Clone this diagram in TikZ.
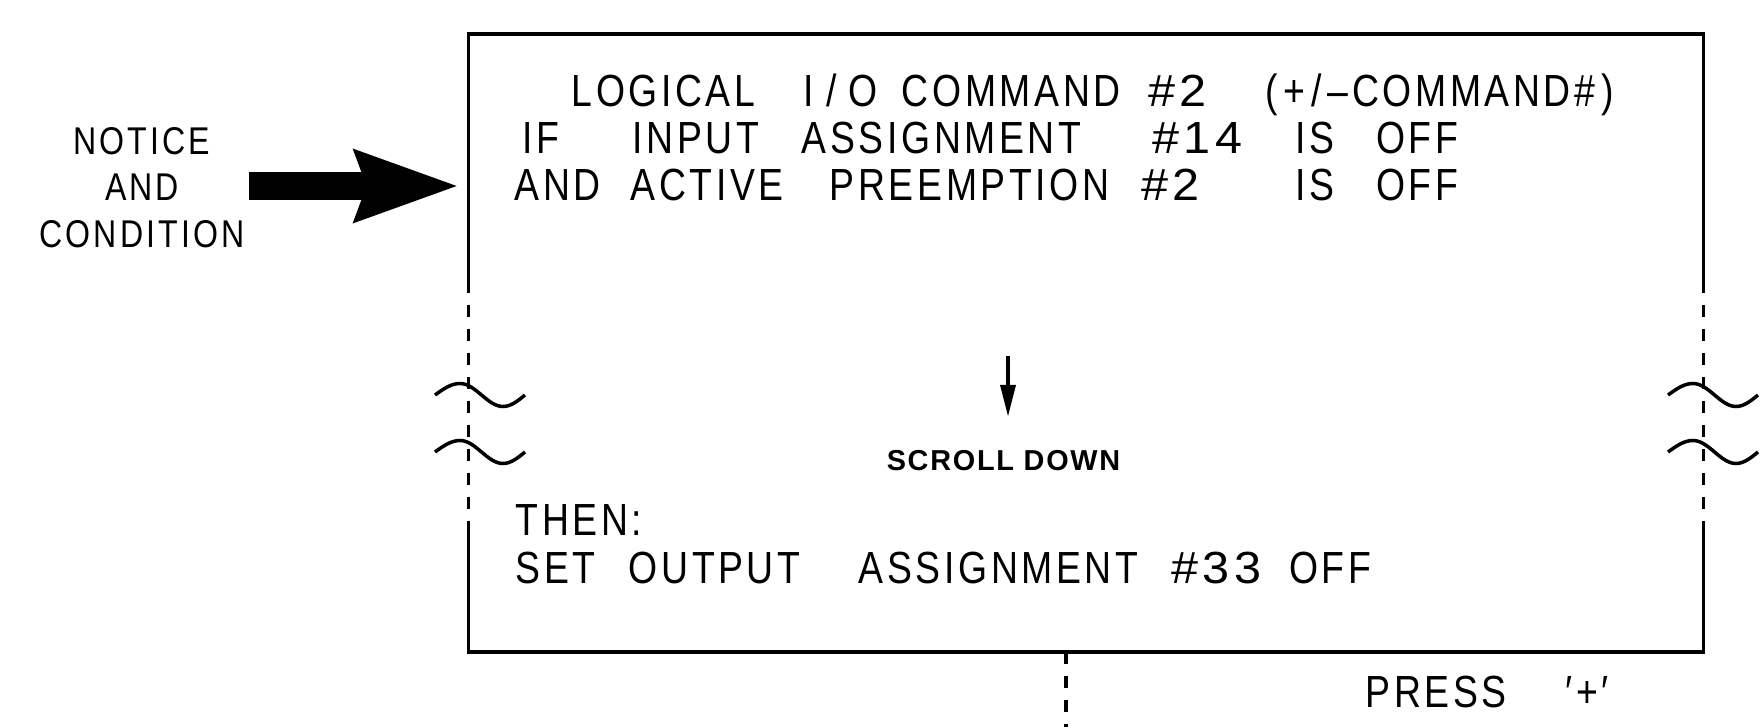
\documentclass[tikz,border=0pt]{standalone}
\usepackage{fontspec}
\usepackage{graphicx}
\usetikzlibrary{arrows.meta}
\newfontfamily\cadfont{Liberation Sans}[FakeStretch=0.83,LetterSpace=8]
\newfontfamily\cadboldfont{Liberation Sans Bold}[FakeStretch=1.0,LetterSpace=6]
\newcommand{\wordslot}[2]{\makebox[#1][l]{#2}}
\newcommand{\widenum}[1]{\scalebox{1.3}[1]{#1}}

\begin{document}
\begin{tikzpicture}[x=0.01cm,y=0.01cm]

\tikzset{
  frame/.style={line width=0.035cm},
  breakline/.style={line width=0.035cm, dash pattern=on 0.12cm off 0.12cm, dash phase=0.12cm},
  tilde/.style={line width=0.035cm},
  screentext/.style={anchor=base west, inner sep=0pt, font=\cadfont\fontsize{12.8pt}{15pt}\selectfont},
  sidetext/.style={anchor=base, inner sep=0pt, font=\cadfont\fontsize{11pt}{13pt}\selectfont},
  hinttext/.style={anchor=base, inner sep=0pt, font=\cadboldfont\fontsize{8.2pt}{10pt}\selectfont}
}

\useasboundingbox (0,0) rectangle (1764,727);

\node[minimum width=12.34cm, minimum height=6.18cm, inner sep=0pt, outer sep=0pt] (screen) at (1086,384) {};
\coordinate (breakT) at (0,434);
\coordinate (breakB) at (0,194);
\coordinate (exit) at (1066,0);
\draw[frame] (screen.west |- breakT) -- (screen.north west) -- (screen.north east) -- (screen.east |- breakT);
\draw[frame] (screen.west |- breakB) -- (screen.south west) -- (screen.south east) -- (screen.east |- breakB);
\draw[breakline] (screen.west |- breakT) -- (screen.west |- breakB);
\draw[breakline] (screen.east |- breakT) -- (screen.east |- breakB);
\draw[breakline, dash phase=0pt] (screen.south -| exit) -- (exit);

\foreach \bx in {435,1668}
  \foreach \by in {332,275}
    \draw[tilde] (\bx,\by) sin ++(25,11.5) cos ++(21.5,-11.5) sin ++(21.5,-11.5) cos ++(22,11.5);

\node[sidetext] (notice) at (142,572) {NOTICE};
\node[sidetext] (and) at (142,526) {AND};
\node[sidetext] (condition) at (142,479) {CONDITION};
\coordinate (arrowS) at (249,541);
\draw[line width=0.27cm, -{Stealth[length=1.04cm,width=0.75cm,inset=0.14cm,line width=0pt]}, shorten >=0.12cm] (arrowS) -- (screen.west |- arrowS);

\node[screentext] (cmd) at (571,620) {\wordslot{2.32cm}{LOGICAL}\wordslot{0.98cm}{I\hspace{0.12cm}/\hspace{0.12cm}O}\wordslot{2.46cm}{COMMAND}\wordslot{1.17cm}{\widenum{\#2}}(\hspace{0.06cm}+\hspace{0.06cm}/\hspace{0.06cm}–COMMAND\#\hspace{0.06cm})};
\node[screentext] (ifline) at (522,573) {\wordslot{1.10cm}{IF}\wordslot{1.69cm}{INPUT}\wordslot{3.50cm}{ASSIGNMENT}\wordslot{1.43cm}{\widenum{\#14}}\wordslot{0.81cm}{IS}OFF};
\node[screentext] (andline) at (514,526) {\wordslot{1.16cm}{AND}\wordslot{1.99cm}{ACTIVE}\wordslot{3.11cm}{PREEMPTION}\wordslot{1.54cm}{\widenum{\#2}}\wordslot{0.81cm}{IS}OFF};

\coordinate (scrollT) at (1008,371);
\coordinate (scrollB) at (1008,311);
\draw[line width=0.033cm, -{Triangle[length=0.31cm,width=0.16cm,line width=0pt]}] (scrollT) -- (scrollB);
\node[hinttext] (scroll) at (1003.5,257) {SCROLL DOWN};

\node[screentext] (then) at (515,192) {THEN:};
\node[screentext] (setline) at (515,144) {\wordslot{1.13cm}{SET}\wordslot{2.30cm}{OUTPUT}\wordslot{3.12cm}{ASSIGNMENT}\wordslot{1.18cm}{\widenum{\#33}}OFF};

\node[screentext] (press) at (1365,20) {\wordslot{2.00cm}{PRESS}′+′};

\end{tikzpicture}
\end{document}
